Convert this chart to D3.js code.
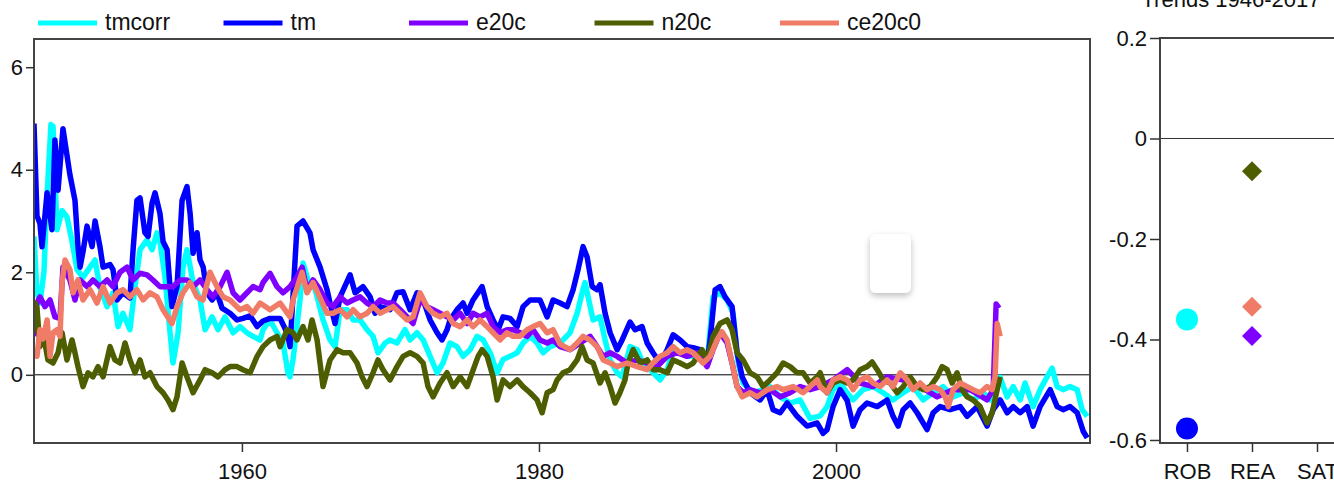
<!DOCTYPE html>
<html>
<head>
<meta charset="utf-8">
<script src="https://cdn.jsdelivr.net/npm/d3@7"></script>
<style>
  body { margin: 0; background: #fff; }
  svg { display: block; font-family: "Liberation Sans", Arial, sans-serif; }
</style>
</head>
<body>
<svg id="chart" width="1334" height="484"></svg>
<script>
// each series: [decimal year, value]
const tmcorr = [[1946.00,2.7],[1946.20,1.6],[1946.40,1.4],[1946.67,2.0],[1946.88,3.5],[1947.14,4.88],[1947.28,4.85],[1947.55,2.83],[1947.89,3.2],[1948.22,3.08],[1948.56,2.6],[1948.90,2.05],[1949.30,1.9],[1949.77,2.1],[1950.11,2.24],[1950.44,1.7],[1950.92,1.33],[1951.32,1.6],[1951.66,0.94],[1951.99,1.2],[1952.46,0.88],[1952.80,1.72],[1953.14,2.44],[1953.61,2.63],[1953.95,2.44],[1954.28,2.77],[1954.48,2.6],[1954.82,1.91],[1955.16,0.82],[1955.36,0.23],[1955.70,0.82],[1956.03,2.1],[1956.30,2.44],[1956.71,1.8],[1957.18,1.46],[1957.52,0.88],[1957.99,1.13],[1958.39,0.88],[1958.86,1.13],[1959.40,0.82],[1959.87,0.94],[1960.34,0.82],[1960.75,0.75],[1961.22,0.68],[1961.42,0.88],[1961.89,1.07],[1962.36,0.82],[1962.77,0.62],[1963.10,0.04],[1963.24,-0.04],[1963.44,0.3],[1963.91,1.46],[1964.11,2.18],[1964.45,1.85],[1964.79,1.8],[1965.12,1.46],[1965.46,1.07],[1965.93,0.68],[1966.27,0.55],[1966.61,1.27],[1967.08,1.27],[1967.48,1.07],[1967.95,1.07],[1968.42,0.88],[1968.83,0.75],[1969.16,0.43],[1969.64,0.62],[1969.97,0.68],[1970.44,0.62],[1970.98,0.88],[1971.32,0.68],[1971.79,0.82],[1972.20,0.68],[1972.67,0.36],[1973.14,0.04],[1973.54,0.23],[1974.01,0.62],[1974.48,0.55],[1974.89,0.36],[1975.36,0.49],[1975.83,0.75],[1976.24,0.68],[1976.71,0.43],[1977.18,0.04],[1977.58,0.3],[1978.05,0.36],[1978.53,0.43],[1978.93,0.62],[1979.40,0.75],[1979.87,0.62],[1980.28,0.43],[1980.75,0.55],[1981.42,0.62],[1982.09,0.82],[1982.57,1.2],[1982.90,1.6],[1983.10,1.8],[1983.31,1.52],[1983.64,1.07],[1984.11,1.13],[1984.45,0.68],[1984.79,0.29],[1985.26,0.04],[1985.60,-0.04],[1986.13,0.55],[1986.61,0.49],[1987.01,0.23],[1987.48,0.1],[1988.15,-0.1],[1988.63,0.1],[1989.03,0.49],[1989.50,0.43],[1989.97,0.36],[1990.65,0.36],[1991.32,0.23],[1991.72,1.52],[1992.19,1.6],[1992.67,1.46],[1993.07,1.2],[1993.41,0.23],[1993.74,-0.16],[1994.42,-0.35],[1995.09,-0.29],[1995.56,-0.23],[1996.24,-0.43],[1996.91,-0.55],[1997.58,-0.49],[1998.25,-0.85],[1998.93,-0.8],[1999.40,-0.62],[1999.80,-0.29],[2000.28,-0.16],[2000.75,-0.35],[2001.15,-0.49],[2001.82,-0.29],[2002.50,-0.23],[2003.17,-0.35],[2003.84,-0.49],[2004.52,-0.35],[2005.19,-0.23],[2005.86,-0.49],[2006.54,-0.35],[2007.21,-0.23],[2007.88,-0.43],[2008.56,-0.35],[2009.23,-0.49],[2009.91,-0.35],[2010.38,-0.49],[2011.05,-0.05],[2011.52,-0.43],[2011.93,-0.23],[2012.40,-0.49],[2012.73,-0.16],[2013.27,-0.62],[2013.74,-0.29],[2014.21,-0.04],[2014.55,0.13],[2014.89,-0.23],[2015.29,-0.29],[2015.76,-0.23],[2016.24,-0.29],[2016.57,-0.68],[2016.91,-0.81]];

const tm = [[1946.00,4.9],[1946.20,3.1],[1946.40,2.95],[1946.54,2.5],[1946.88,3.55],[1947.21,2.83],[1947.41,4.58],[1947.62,3.6],[1947.95,4.8],[1948.42,3.9],[1948.76,3.4],[1948.96,2.5],[1949.10,2.1],[1949.30,2.4],[1949.57,2.9],[1949.91,2.5],[1950.11,3.0],[1950.44,2.5],[1950.65,2.1],[1951.12,2.15],[1951.32,2.05],[1951.59,1.46],[1951.99,1.6],[1952.46,1.5],[1952.67,2.44],[1952.93,3.4],[1953.14,3.45],[1953.47,2.77],[1953.68,2.7],[1953.95,3.35],[1954.15,3.55],[1954.48,3.15],[1954.69,2.6],[1954.96,2.44],[1955.16,1.72],[1955.29,1.33],[1955.63,1.72],[1955.97,3.4],[1956.30,3.67],[1956.51,3.15],[1956.71,2.37],[1956.98,2.77],[1957.18,2.24],[1957.39,2.1],[1957.65,1.6],[1957.99,1.46],[1958.32,1.6],[1958.66,1.3],[1959.20,1.2],[1959.67,1.07],[1960.07,1.1],[1960.55,1.15],[1961.02,0.94],[1961.42,1.05],[1961.89,1.1],[1962.57,1.1],[1963.04,0.82],[1963.24,0.55],[1963.71,2.9],[1964.11,3.0],[1964.58,2.77],[1964.79,2.44],[1965.26,2.1],[1965.73,1.66],[1965.93,1.4],[1966.27,1.0],[1966.61,1.52],[1967.28,1.95],[1967.62,1.6],[1968.15,1.72],[1968.63,1.52],[1968.96,1.2],[1969.30,1.33],[1969.97,1.27],[1970.44,1.6],[1970.85,1.62],[1971.32,1.27],[1971.79,1.6],[1972.20,1.46],[1972.67,1.07],[1973.14,0.82],[1973.47,0.68],[1973.81,0.88],[1974.01,1.07],[1974.48,1.27],[1974.89,1.4],[1975.16,1.2],[1975.56,1.46],[1976.17,1.72],[1976.51,1.33],[1976.91,1.07],[1977.25,0.88],[1977.58,1.13],[1978.05,1.1],[1978.53,0.94],[1978.93,1.33],[1979.40,1.46],[1980.07,1.46],[1980.55,1.13],[1980.95,1.46],[1981.42,1.4],[1981.89,1.33],[1982.30,1.66],[1982.63,2.05],[1982.97,2.5],[1983.24,2.3],[1983.58,1.72],[1983.91,1.66],[1984.11,1.76],[1984.45,1.2],[1984.79,0.82],[1985.26,0.49],[1985.60,0.68],[1986.13,1.03],[1986.47,0.88],[1986.94,0.94],[1987.28,0.62],[1987.68,0.43],[1988.15,0.23],[1988.63,0.49],[1989.03,0.78],[1989.50,0.68],[1989.97,0.55],[1990.38,0.53],[1990.85,0.49],[1991.32,0.23],[1991.52,0.68],[1991.86,1.66],[1992.19,1.72],[1992.53,1.52],[1993.00,1.33],[1993.34,0.43],[1993.68,-0.04],[1994.21,-0.35],[1994.89,-0.49],[1995.36,-0.29],[1995.76,-0.68],[1996.24,-0.74],[1996.71,-0.55],[1997.38,-0.81],[1998.05,-1.0],[1998.73,-0.94],[1999.13,-1.14],[1999.40,-1.07],[1999.80,-0.62],[2000.28,-0.29],[2000.75,-0.5],[2001.15,-1.0],[2001.62,-0.68],[2002.09,-0.55],[2002.77,-0.62],[2003.44,-0.49],[2003.84,-0.81],[2004.18,-1.0],[2004.52,-0.68],[2004.99,-0.55],[2005.46,-0.74],[2006.13,-1.07],[2006.54,-0.74],[2007.01,-0.62],[2007.68,-0.68],[2008.36,-0.62],[2008.83,-0.81],[2009.50,-0.62],[2010.17,-1.0],[2010.58,-0.68],[2011.05,-0.49],[2011.52,-0.74],[2011.93,-0.62],[2012.40,-0.74],[2012.87,-0.62],[2013.27,-1.0],[2013.74,-0.62],[2014.42,-0.29],[2014.89,-0.62],[2015.29,-0.68],[2015.76,-0.62],[2016.24,-0.74],[2016.64,-1.1],[2016.91,-1.23]];

const e20c = [[1946.00,0.75],[1946.20,1.4],[1946.40,1.52],[1946.74,1.33],[1947.08,1.46],[1947.41,1.13],[1947.75,1.1],[1947.95,2.1],[1948.42,1.85],[1948.76,1.46],[1949.10,1.85],[1949.57,1.72],[1949.97,1.85],[1950.44,1.72],[1950.92,1.85],[1951.32,1.72],[1951.79,2.0],[1952.26,2.1],[1952.67,1.85],[1953.14,1.98],[1953.61,1.95],[1954.01,1.85],[1954.48,1.72],[1954.96,1.72],[1955.36,1.72],[1955.83,1.85],[1956.30,1.85],[1956.71,1.72],[1957.18,1.85],[1957.65,1.66],[1958.05,1.52],[1958.53,1.72],[1959.00,2.0],[1959.40,1.6],[1959.87,1.46],[1960.34,1.6],[1960.75,1.72],[1961.22,1.66],[1961.42,1.8],[1961.89,1.98],[1962.36,1.72],[1962.77,1.6],[1963.24,1.72],[1963.71,1.91],[1964.05,2.1],[1964.38,1.66],[1964.79,1.85],[1965.26,1.66],[1965.73,1.4],[1966.13,1.33],[1966.61,1.52],[1967.08,1.4],[1967.48,1.46],[1967.95,1.52],[1968.42,1.4],[1968.83,1.33],[1969.30,1.46],[1969.77,1.4],[1970.18,1.4],[1970.65,1.27],[1971.12,1.13],[1971.52,1.0],[1971.99,1.46],[1972.46,1.33],[1972.87,1.27],[1973.34,1.2],[1973.81,1.13],[1974.22,1.07],[1974.69,1.2],[1975.16,1.0],[1975.56,1.2],[1976.03,1.13],[1976.51,1.2],[1976.91,0.94],[1977.38,0.82],[1977.85,0.88],[1978.26,0.88],[1978.73,0.82],[1979.20,0.75],[1979.60,0.88],[1980.07,0.68],[1980.55,0.62],[1980.95,0.68],[1981.42,0.55],[1982.09,0.49],[1982.77,0.62],[1983.44,0.75],[1983.91,0.55],[1984.32,0.36],[1984.79,0.43],[1985.26,0.36],[1985.93,0.23],[1986.61,0.29],[1987.28,0.23],[1987.95,0.16],[1988.63,0.36],[1989.30,0.43],[1989.97,0.36],[1990.65,0.43],[1991.32,0.16],[1991.72,0.49],[1992.19,0.82],[1992.67,0.62],[1993.00,0.23],[1993.34,-0.23],[1993.74,-0.35],[1994.21,-0.29],[1994.89,-0.35],[1995.56,-0.29],[1996.24,-0.43],[1996.91,-0.35],[1997.58,-0.23],[1998.25,-0.29],[1998.93,-0.23],[1999.80,-0.1],[2000.75,0.1],[2001.62,-0.16],[2002.50,-0.23],[2003.44,-0.04],[2004.52,-0.1],[2005.66,-0.23],[2006.81,-0.43],[2007.88,-0.29],[2009.03,-0.29],[2010.17,-0.49],[2010.58,-0.29],[2010.78,1.38],[2010.98,1.3]];

const n20c = [[1946.00,0.82],[1946.07,1.4],[1946.20,1.3],[1946.40,0.55],[1946.61,0.82],[1946.94,0.29],[1947.28,0.23],[1947.62,0.43],[1947.89,0.82],[1948.22,0.29],[1948.56,0.68],[1948.76,0.43],[1948.96,0.16],[1949.30,-0.23],[1949.64,0.04],[1949.97,-0.04],[1950.31,0.16],[1950.65,-0.04],[1951.12,0.55],[1951.45,0.29],[1951.79,0.23],[1952.13,0.62],[1952.46,0.29],[1952.80,0.04],[1953.14,0.29],[1953.47,-0.04],[1953.81,0.04],[1954.28,-0.23],[1954.69,-0.35],[1955.02,-0.49],[1955.36,-0.68],[1955.63,-0.43],[1955.97,0.23],[1956.30,-0.04],[1956.71,-0.35],[1957.18,-0.1],[1957.52,0.1],[1957.99,0.04],[1958.39,-0.04],[1958.86,0.1],[1959.20,0.16],[1959.67,0.16],[1960.07,0.1],[1960.55,0.04],[1961.02,0.36],[1961.42,0.55],[1961.89,0.68],[1962.36,0.75],[1962.57,0.55],[1963.04,0.88],[1963.44,0.82],[1963.71,0.68],[1964.11,0.94],[1964.45,0.68],[1964.72,1.07],[1965.06,0.68],[1965.46,-0.23],[1965.93,0.29],[1966.40,0.49],[1966.81,0.43],[1967.28,0.43],[1967.75,0.23],[1968.09,-0.04],[1968.42,-0.23],[1968.83,0.04],[1969.16,0.29],[1969.50,0.1],[1969.97,-0.1],[1970.44,0.16],[1970.85,0.36],[1971.32,0.43],[1971.79,0.36],[1972.20,0.23],[1972.53,-0.23],[1972.87,-0.43],[1973.34,-0.16],[1973.81,0.04],[1974.22,-0.23],[1974.69,-0.04],[1975.16,-0.23],[1975.50,0.04],[1975.90,0.36],[1976.17,0.49],[1976.51,0.36],[1976.91,-0.04],[1977.18,-0.49],[1977.58,-0.1],[1978.05,-0.23],[1978.53,-0.1],[1978.93,-0.23],[1979.40,-0.35],[1979.87,-0.49],[1980.21,-0.74],[1980.55,-0.35],[1980.95,-0.29],[1981.22,-0.1],[1981.62,0.04],[1982.09,0.1],[1982.57,0.29],[1982.90,0.55],[1983.24,0.29],[1983.64,0.23],[1984.11,-0.16],[1984.45,0.04],[1984.79,-0.23],[1985.12,-0.55],[1985.45,-0.35],[1985.79,-0.1],[1986.00,0.23],[1986.34,0.49],[1986.81,0.23],[1987.28,0.29],[1987.68,0.1],[1988.15,0.1],[1988.63,0.04],[1989.03,0.29],[1989.50,0.23],[1989.97,0.16],[1990.38,0.23],[1990.98,0.49],[1991.32,0.29],[1991.72,0.75],[1992.19,1.0],[1992.67,1.07],[1993.00,0.88],[1993.34,0.43],[1993.74,0.29],[1994.21,0.04],[1994.69,-0.04],[1995.09,-0.23],[1995.56,-0.1],[1996.03,0.04],[1996.44,0.23],[1996.91,0.16],[1997.38,0.04],[1997.78,0.04],[1998.25,-0.16],[1998.73,-0.04],[1998.93,0.04],[1999.40,-0.35],[1999.80,-0.16],[2000.28,-0.1],[2000.75,-0.16],[2001.15,-0.1],[2001.62,0.1],[2002.09,0.16],[2002.43,0.25],[2002.77,0.1],[2003.17,-0.1],[2003.64,-0.16],[2004.11,-0.35],[2004.52,-0.23],[2004.99,-0.04],[2005.46,-0.23],[2005.86,-0.29],[2006.34,-0.23],[2006.81,-0.04],[2007.14,0.16],[2007.48,0.1],[2007.82,-0.16],[2008.15,0.04],[2008.49,-0.29],[2008.83,-0.43],[2009.23,-0.49],[2009.70,-0.62],[2010.17,-0.94],[2010.51,-0.74],[2010.85,-0.29],[2011.05,-0.04]];

const ce20c0 = [[1946.00,0.49],[1946.20,0.36],[1946.40,0.88],[1946.61,0.7],[1946.88,1.07],[1947.08,0.36],[1947.28,0.82],[1947.55,0.88],[1947.75,0.75],[1947.89,1.8],[1948.09,2.24],[1948.42,2.05],[1948.63,1.6],[1948.96,1.85],[1949.30,1.46],[1949.77,1.66],[1950.24,1.4],[1950.65,1.72],[1951.12,1.4],[1951.59,1.6],[1951.99,1.66],[1952.46,1.52],[1952.93,1.66],[1953.34,1.46],[1953.81,1.6],[1954.28,1.52],[1954.69,1.27],[1955.29,1.0],[1955.63,1.33],[1956.03,1.6],[1956.51,1.8],[1956.98,1.52],[1957.38,1.46],[1957.85,2.0],[1958.32,1.72],[1958.73,1.52],[1959.20,1.46],[1959.87,1.27],[1960.34,1.33],[1960.75,1.2],[1961.22,1.4],[1961.89,1.27],[1962.57,1.4],[1963.24,1.13],[1963.44,1.46],[1964.05,2.0],[1964.38,1.6],[1964.79,1.8],[1965.26,1.5],[1965.73,1.2],[1966.13,1.2],[1966.61,1.27],[1967.08,1.13],[1967.48,1.27],[1967.95,1.13],[1968.42,1.2],[1968.83,1.33],[1969.30,1.2],[1969.77,1.27],[1970.18,1.33],[1970.65,1.2],[1971.12,1.07],[1971.52,1.13],[1971.99,1.6],[1972.46,1.33],[1972.87,1.2],[1973.34,1.13],[1973.81,1.2],[1974.22,1.0],[1974.69,0.94],[1975.16,1.07],[1975.56,0.94],[1976.03,1.07],[1976.51,0.94],[1976.91,0.82],[1977.38,0.68],[1977.85,0.82],[1978.26,0.75],[1978.73,0.75],[1979.20,0.88],[1979.60,0.94],[1980.07,1.0],[1980.55,0.82],[1980.95,0.88],[1981.42,0.6],[1982.09,0.49],[1982.57,0.62],[1982.97,0.75],[1983.44,0.68],[1983.91,0.55],[1984.32,0.29],[1984.79,0.23],[1985.26,0.16],[1985.93,0.23],[1986.61,0.16],[1987.28,0.1],[1987.68,0.23],[1988.15,0.36],[1988.63,0.43],[1989.03,0.55],[1989.50,0.43],[1989.97,0.49],[1990.38,0.43],[1991.05,0.23],[1991.52,0.36],[1991.99,0.68],[1992.32,0.84],[1992.67,0.68],[1993.00,0.23],[1993.34,-0.23],[1993.68,-0.43],[1994.21,-0.35],[1994.69,-0.43],[1995.36,-0.29],[1996.03,-0.23],[1996.44,-0.29],[1997.11,-0.23],[1997.78,-0.35],[1998.25,-0.23],[1998.73,-0.1],[1998.93,-0.23],[1999.40,-0.35],[1999.80,-0.1],[2000.28,-0.04],[2000.75,-0.1],[2001.15,-0.29],[2001.62,-0.1],[2002.09,-0.04],[2002.50,-0.16],[2002.97,-0.23],[2003.44,-0.1],[2003.84,-0.23],[2004.32,0.04],[2004.79,-0.1],[2005.19,-0.29],[2005.66,-0.16],[2006.13,-0.29],[2006.54,-0.23],[2007.01,-0.29],[2007.35,-0.43],[2007.56,-0.62],[2007.88,-0.29],[2008.36,-0.16],[2008.83,-0.23],[2009.23,-0.29],[2009.70,-0.35],[2010.17,-0.23],[2010.51,-0.29],[2010.71,-0.04],[2010.85,1.0],[2011.05,0.75]];

const seriesNames = ["tmcorr", "tm", "e20c", "n20c", "ce20c0"];
const seriesData = [tmcorr, tm, e20c, n20c, ce20c0];
const seriesColors = ["#00ffff", "#0000ff", "#8000ff", "#4d5e00", "#f07c68"];

const yearTicks = [1960, 1980, 2000];
const valueTicks = [0, 2, 4, 6];

// trends 1946-2017
const trendCats = ["ROB", "REA", "SAT"];
const trendTicks = [0.2, 0, -0.2, -0.4, -0.6];
const robSeries = ["tmcorr", "tm"];
const robTrends = [-0.36, -0.577];
const reaSeries = ["e20c", "n20c", "ce20c0"];
const reaTrends = [-0.393, -0.065, -0.335];

const svg = d3.select("#chart");
const colorOf = d3.scaleOrdinal().domain(seriesNames).range(seriesColors);

// ---- main panel ----
const pLeft = 34, pRight = 1090, pTop = 39, pBottom = 443;
const x = d3.scaleLinear().domain([1946, 2017.1]).range([pLeft, pRight]);
const y = d3.scaleLinear().domain([-1.33, 6.55]).range([pBottom, pTop]);

const defs = svg.append("defs");
defs.append("clipPath").attr("id", "plotclip")
  .append("rect").attr("x", pLeft).attr("y", pTop)
  .attr("width", pRight - pLeft).attr("height", pBottom - pTop);

svg.append("line")
  .attr("x1", pLeft).attr("x2", pRight)
  .attr("y1", y(0)).attr("y2", y(0))
  .attr("stroke", "#000").attr("stroke-width", 1);

const line = d3.line().x(d => x(d[0])).y(d => y(d[1]));

svg.append("g").attr("clip-path", "url(#plotclip)")
  .selectAll("path")
  .data(seriesData)
  .join("path")
  .attr("d", line)
  .attr("fill", "none")
  .attr("stroke", (d, i) => seriesColors[i])
  .attr("stroke-width", 5.5)
  .attr("stroke-linejoin", "round");

svg.append("rect")
  .attr("x", pLeft).attr("y", pTop)
  .attr("width", pRight - pLeft).attr("height", pBottom - pTop)
  .attr("fill", "none").attr("stroke", "#444").attr("stroke-width", 2);

const yAxis = svg.append("g")
  .attr("transform", `translate(${pLeft},0)`)
  .call(d3.axisLeft(y).tickValues(valueTicks).tickSize(8).tickPadding(3).tickFormat(d3.format("d")));
const xAxis = svg.append("g")
  .attr("transform", `translate(0,${pBottom})`)
  .call(d3.axisBottom(x).tickValues(yearTicks).tickSize(9).tickPadding(11).tickFormat(d3.format("d")));

// ---- trends panel ----
const tLeft = 1160, tRight = 1344, tTop = 38;
const tx = d3.scalePoint().domain(trendCats).range([tLeft, tRight]).padding(0.415);
const ty = d3.scaleLinear().domain([-0.606, 0.2]).range([pBottom, tTop]);

svg.append("line")
  .attr("x1", tLeft).attr("x2", tRight)
  .attr("y1", ty(0)).attr("y2", ty(0))
  .attr("stroke", "#333").attr("stroke-width", 1);

svg.append("rect")
  .attr("x", tLeft).attr("y", tTop)
  .attr("width", tRight - tLeft).attr("height", pBottom - tTop)
  .attr("fill", "none").attr("stroke", "#444").attr("stroke-width", 2);

const tyAxis = svg.append("g")
  .attr("transform", `translate(${tLeft},0)`)
  .call(d3.axisLeft(ty).tickValues(trendTicks).tickSize(10).tickPadding(3)
    .tickFormat(d => d === 0 ? "0" : d.toFixed(1)));
const txAxis = svg.append("g")
  .attr("transform", `translate(0,${pBottom})`)
  .call(d3.axisBottom(tx).tickSize(9).tickPadding(11));

[yAxis, xAxis, tyAxis, txAxis].forEach(g => {
  g.select(".domain").remove();
  g.selectAll(".tick line").attr("stroke", "#333").attr("stroke-width", 1.5);
  g.selectAll(".tick text").attr("fill", "#111")
    .style("font-family", "'Liberation Sans', Arial, sans-serif")
    .style("font-size", "22px");
});

svg.selectAll(".rob-pt")
  .data(robSeries.map((s, i) => ({ s, v: robTrends[i] })))
  .join("circle")
  .attr("class", "rob-pt")
  .attr("cx", tx("ROB")).attr("cy", d => ty(d.v))
  .attr("r", 11)
  .attr("fill", d => colorOf(d.s));

svg.selectAll(".rea-pt")
  .data(reaSeries.map((s, i) => ({ s, v: reaTrends[i] })))
  .join("path")
  .attr("class", "rea-pt")
  .attr("d", d3.symbol(d3.symbolSquare, 200))
  .attr("transform", d => `translate(${tx("REA")},${ty(d.v)}) rotate(45)`)
  .attr("fill", d => colorOf(d.s));

svg.append("text")
  .attr("x", 1231).attr("y", 7)
  .attr("text-anchor", "middle")
  .attr("fill", "#111")
  .style("font-size", "22px")
  .text("Trends 1946-2017");

// ---- legend ----
const legend = svg.append("g").selectAll("g")
  .data(seriesNames)
  .join("g")
  .attr("transform", (d, i) => `translate(${38 + i * 185.5},0)`);
legend.append("line")
  .attr("x1", 0).attr("x2", 59).attr("y1", 23).attr("y2", 23)
  .attr("stroke", d => colorOf(d)).attr("stroke-width", 5);
legend.append("text")
  .attr("x", 67).attr("y", 30)
  .attr("fill", "#111")
  .style("font-size", "23px")
  .text(d => d);

// floating white card seen over the plot
const shadow = defs.append("filter").attr("id", "cardshadow")
  .attr("x", "-50%").attr("y", "-50%").attr("width", "200%").attr("height", "200%");
shadow.append("feDropShadow").attr("dx", 0).attr("dy", 3)
  .attr("stdDeviation", 3).attr("flood-color", "#000").attr("flood-opacity", 0.25);
svg.append("rect")
  .attr("x", 870).attr("y", 234).attr("width", 41).attr("height", 59).attr("rx", 6)
  .attr("fill", "#fff").attr("filter", "url(#cardshadow)");
</script>
</body>
</html>
